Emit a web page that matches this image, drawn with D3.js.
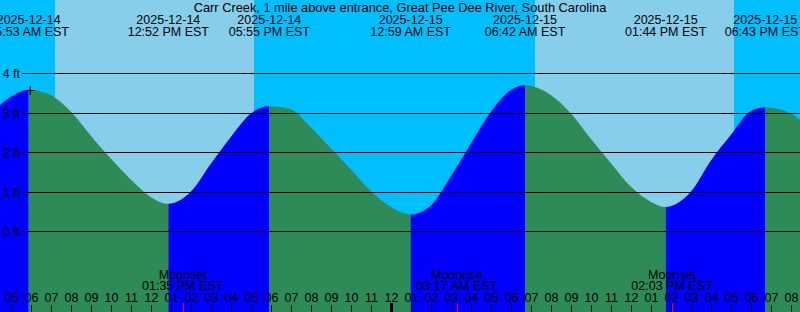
<!DOCTYPE html>
<html>
<head>
<meta charset="utf-8">
<title>Carr Creek tides</title>
<script src="https://d3js.org/d3.v7.min.js"></script>
<style>
  body { margin: 0; background: #fff; }
  svg { display: block; font-family: "Liberation Sans", Arial, sans-serif; }
</style>
</head>
<body>
<div id="chart"></div>
<script>
const width = 800, height = 312;

const title = "Carr Creek, 1 mile above entrance, Great Pee Dee River, South Carolina";

// water level readings (ft)
const tideTimes = [
  "2025-12-14 04:27", "2025-12-14 05:00", "2025-12-14 05:53", "2025-12-14 07:00",
  "2025-12-14 08:00", "2025-12-14 09:00", "2025-12-14 10:00", "2025-12-14 11:00", "2025-12-14 12:00",
  "2025-12-14 12:52", "2025-12-14 14:00", "2025-12-14 15:00", "2025-12-14 16:00",
  "2025-12-14 17:00", "2025-12-14 17:55", "2025-12-14 19:00", "2025-12-14 20:00",
  "2025-12-14 21:00", "2025-12-14 22:00", "2025-12-14 23:00", "2025-12-15 00:00", "2025-12-15 00:59",
  "2025-12-15 02:00", "2025-12-15 03:00", "2025-12-15 04:00", "2025-12-15 05:00",
  "2025-12-15 06:00", "2025-12-15 06:42", "2025-12-15 08:00", "2025-12-15 09:00",
  "2025-12-15 10:00", "2025-12-15 11:00", "2025-12-15 12:00", "2025-12-15 13:00", "2025-12-15 13:44",
  "2025-12-15 15:00", "2025-12-15 16:00", "2025-12-15 17:00", "2025-12-15 18:00",
  "2025-12-15 18:43", "2025-12-15 20:00", "2025-12-15 20:27"
];
const tideLevels = [
  3.20, 3.41, 3.59, 3.45,
  3.03, 2.42, 1.84, 1.31, 0.87,
  0.70, 1.01, 1.72, 2.40,
  2.99, 3.17, 3.09, 2.63,
  2.10, 1.57, 1.02, 0.62, 0.43,
  0.66, 1.40, 2.23, 3.03,
  3.58, 3.70, 3.45, 2.99,
  2.34, 1.73, 1.13, 0.75, 0.62,
  1.01, 1.80, 2.45, 3.05,
  3.14, 2.99, 2.82
];

// high / low tides
const eventTimes = ["2025-12-14 05:53", "2025-12-14 12:52", "2025-12-14 17:55", "2025-12-15 00:59",
                    "2025-12-15 06:42", "2025-12-15 13:44", "2025-12-15 18:43"];
const eventLevels = [3.59, 0.70, 3.17, 0.43, 3.70, 0.62, 3.14];

// daylight
const sunriseTimes = ["2025-12-14 07:12", "2025-12-15 07:12"];
const sunsetTimes = ["2025-12-14 17:09", "2025-12-15 17:09"];

// moon
const moonTimes = ["2025-12-14 13:35", "2025-12-15 03:17", "2025-12-15 14:03"];
const moonNames = ["Moonset", "Moonrise", "Moonset"];

const levelTicks = [0, 1, 2, 3, 4];

const parse = d3.timeParse("%Y-%m-%d %H:%M");
const fmtDate = d3.timeFormat("%Y-%m-%d");
const fmtTime = d3.timeFormat("%I:%M %p EST");

const tide = tideTimes.map((t, i) => ({ t: parse(t), v: tideLevels[i] }));
const events = eventTimes.map((t, i) => ({ t: parse(t), v: eventLevels[i] }));

const x = d3.scaleTime()
  .domain([parse("2025-12-14 06:00"), parse("2025-12-15 06:00")])
  .range([31, 511]);
const y = d3.scaleLinear().domain([0, 4]).range([231.5, 73.5]);

const svg = d3.select('#chart').append('svg')
  .attr('width', width)
  .attr('height', height);

// sky: night, then daylight bands
svg.append('rect').attr('width', width).attr('height', height).attr('fill', '#00BFFF');
svg.append('g').selectAll('rect')
  .data(sunriseTimes.map((s, i) => [parse(s), parse(sunsetTimes[i])]))
  .join('rect')
  .attr('x', d => x(d[0]))
  .attr('width', d => x(d[1]) - x(d[0]))
  .attr('y', 0)
  .attr('height', height)
  .attr('fill', '#87CEEB');

// water
const area = d3.area()
  .x(d => x(d.t))
  .y0(height)
  .y1(d => y(d.v))
  .curve(d3.curveMonotoneX);

svg.append('clipPath').attr('id', 'water')
  .append('path').attr('d', area(tide));

// rising = blue, falling = green
const bounds = [x.invert(0), ...events.map(e => e.t), x.invert(width)];
const segs = d3.pairs(bounds).map((p, i) => ({ a: p[0], b: p[1], rising: i % 2 === 0 }));
svg.append('g').attr('clip-path', 'url(#water)')
  .selectAll('rect')
  .data(segs)
  .join('rect')
  .attr('x', d => x(d.a))
  .attr('width', d => x(d.b) - x(d.a))
  .attr('y', 0)
  .attr('height', height)
  .attr('fill', d => d.rising ? '#0000FF' : '#2E8B57');

// level lines
const grid = svg.append('g');
grid.selectAll('line')
  .data(levelTicks)
  .join('line')
  .attr('x1', 22).attr('x2', width)
  .attr('y1', d => Math.floor(y(d)) + 0.5)
  .attr('y2', d => Math.floor(y(d)) + 0.5)
  .attr('stroke', '#000')
  .attr('stroke-width', 1);
grid.selectAll('text')
  .data(levelTicks)
  .join('text')
  .attr('x', 20)
  .attr('y', d => Math.floor(y(d)) + 5)
  .attr('text-anchor', 'end')
  .attr('font-size', 12.5)
  .text(d => d + ' ft');

// marker at first high
const m = events[0];
svg.append('path')
  .attr('d', `M${x(m.t) - 3},${Math.round(y(m.v)) + 0.5}h9M${x(m.t) + 1.5},${Math.round(y(m.v)) - 4}v9`)
  .attr('stroke', '#000')
  .attr('fill', 'none');

// title
svg.append('text')
  .attr('x', width / 2)
  .attr('y', 11.5)
  .attr('text-anchor', 'middle')
  .attr('font-size', 12.8)
  .text(title);

// tide event labels
const ev = svg.append('g').selectAll('g')
  .data(events)
  .join('g')
  .attr('transform', d => `translate(${x(d.t)},0)`)
  .attr('text-anchor', 'middle')
  .attr('font-size', 12.5);
ev.append('text').attr('y', 24).text(d => fmtDate(d.t));
ev.append('text').attr('y', 36).text(d => fmtTime(d.t));

// moon events
const moon = svg.append('g').selectAll('g')
  .data(moonTimes.map((t, i) => ({ t: parse(t), name: moonNames[i] })))
  .join('g')
  .attr('transform', d => `translate(${x(d.t)},0)`)
  .attr('text-anchor', 'middle')
  .attr('font-size', 12.5);
moon.append('text').attr('y', 278.5).text(d => d.name);
moon.append('text').attr('y', 289.5).text(d => fmtTime(d.t));

// hour axis
const hours = d3.timeHour.range(parse("2025-12-14 05:00"), parse("2025-12-15 20:01"));
const axis = svg.append('g')
  .attr('transform', `translate(0,${height})`)
  .call(d3.axisTop(x).tickValues(hours).tickFormat(d3.timeFormat("%I")).tickSize(7).tickPadding(3));
axis.select('.domain').remove();
axis.selectAll('.tick line')
  .attr('stroke', '#000')
  .attr('shape-rendering', 'crispEdges')
  .filter(d => d.getHours() === 0)
  .attr('stroke-width', 3)
  .attr('y2', -9);
axis.selectAll('.tick text')
  .attr('fill', '#000')
  .attr('font-size', 12.5)
  .attr('font-family', '"Liberation Sans", Arial, sans-serif');

svg.append('g').selectAll('line')
  .data(moonTimes.map(parse))
  .join('line')
  .attr('x1', d => Math.round(x(d)) + 0.5)
  .attr('x2', d => Math.round(x(d)) + 0.5)
  .attr('y1', 303).attr('y2', height)
  .attr('stroke', '#FF0000');
</script>
</body>
</html>
